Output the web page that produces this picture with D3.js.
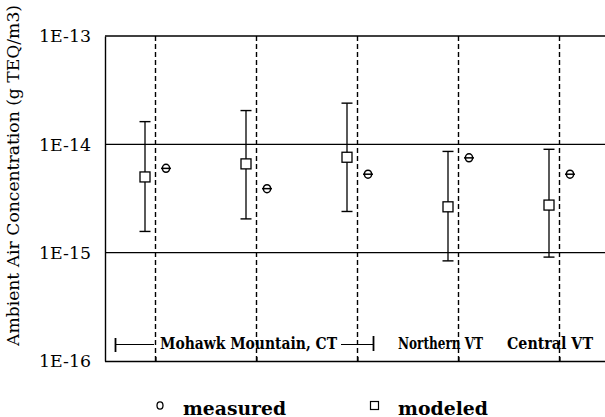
<!DOCTYPE html>
<html>
<head>
<meta charset="utf-8">
<script src="https://cdn.jsdelivr.net/npm/d3@7"></script>
<style>
  html, body { margin: 0; padding: 0; background: #fff; }
  svg { display: block; }
</style>
</head>
<body>
<svg id="chart" width="605" height="417"></svg>
<script>
// ---- data ----
const categories = ["Mohawk Mountain, CT (1)", "Mohawk Mountain, CT (2)", "Mohawk Mountain, CT (3)", "Northern VT", "Central VT"];
const modeled = [5.0e-15, 6.6e-15, 7.6e-15, 2.65e-15, 2.75e-15];
const modeledHigh = [1.62e-14, 2.05e-14, 2.4e-14, 8.6e-15, 9.0e-15];
const modeledLow = [1.57e-15, 2.05e-15, 2.4e-15, 8.4e-16, 9.1e-16];
const measured = [6.0e-15, 3.9e-15, 5.3e-15, 7.5e-15, 5.3e-15];
const yTicks = [1e-13, 1e-14, 1e-15, 1e-16];
const yTickLabels = ["1E-13", "1E-14", "1E-15", "1E-16"];
const gridValues = [1e-14, 1e-15];
const groupLabels = ["Mohawk Mountain, CT", "Northern VT", "Central VT"];
const legendLabels = ["measured", "modeled"];
const yTitle = "Ambient Air Concentration (g TEQ/m3)";

(function () {
// ---- layout ----
const svg = d3.select("#chart");
const pLeft = 105, pRight = 610, pTop = 36, pBottom = 361;

const x = d3.scalePoint().domain(categories).range([pLeft, pRight]).padding(0.5);
const y = d3.scaleLog().domain([1e-16, 1e-13]).range([pBottom, pTop]);

const serif = "'DejaVu Serif', 'Liberation Serif', serif";

// horizontal lines (top border + gridlines)
svg.append("g").selectAll("line").data([1e-13].concat(gridValues)).join("line")
  .attr("x1", pLeft).attr("x2", 605)
  .attr("y1", d => y(d)).attr("y2", d => y(d))
  .attr("stroke", "#000").attr("stroke-width", 1.3);

// dashed verticals at categories
svg.append("g").selectAll("line").data(categories).join("line")
  .attr("x1", d => x(d)).attr("x2", d => x(d))
  .attr("y1", pTop).attr("y2", pBottom)
  .attr("stroke", "#000").attr("stroke-width", 1.4)
  .attr("stroke-dasharray", "5,3");

// left axis
const yAxis = d3.axisLeft(y).tickValues(yTicks).tickSize(0).tickPadding(14)
  .tickFormat((d, i) => yTickLabels[i]);
const gy = svg.append("g").attr("transform", `translate(${pLeft},0)`).call(yAxis);
gy.select(".domain").attr("stroke", "#000").attr("stroke-width", 1.4);
gy.selectAll("text").attr("font-family", serif).attr("font-size", 17).attr("fill", "#000")
  .attr("dy", "0.35em").attr("textLength", 52).attr("lengthAdjust", "spacingAndGlyphs");

// bottom axis
const xAxis = d3.axisBottom(x).tickSize(-4).tickFormat("");
const gx = svg.append("g").attr("transform", `translate(0,${pBottom})`).call(xAxis);
gx.select(".domain").attr("d", `M${pLeft},0.5H605`).attr("stroke", "#000").attr("stroke-width", 1.6);
gx.selectAll(".tick line").attr("stroke", "#000").attr("stroke-width", 1.2);

// y title
svg.append("text")
  .attr("transform", `translate(19,${(5 + 346) / 2}) rotate(-90)`)
  .attr("text-anchor", "middle")
  .attr("font-family", serif).attr("font-size", 16)
  .attr("textLength", 341).attr("lengthAdjust", "spacingAndGlyphs")
  .text(yTitle);

// modeled error bars
const off = 10.5;
const mg = svg.append("g");
mg.selectAll("line.v").data(categories).join("line").attr("class", "v")
  .attr("x1", d => x(d) - off).attr("x2", d => x(d) - off)
  .attr("y1", (d, i) => y(modeledHigh[i])).attr("y2", (d, i) => y(modeledLow[i]))
  .attr("stroke", "#000").attr("stroke-width", 1.3);
mg.selectAll("line.hi").data(categories).join("line").attr("class", "hi")
  .attr("x1", d => x(d) - off - 5.5).attr("x2", d => x(d) - off + 5.5)
  .attr("y1", (d, i) => y(modeledHigh[i])).attr("y2", (d, i) => y(modeledHigh[i]))
  .attr("stroke", "#000").attr("stroke-width", 1.4);
mg.selectAll("line.lo").data(categories).join("line").attr("class", "lo")
  .attr("x1", d => x(d) - off - 5.5).attr("x2", d => x(d) - off + 5.5)
  .attr("y1", (d, i) => y(modeledLow[i])).attr("y2", (d, i) => y(modeledLow[i]))
  .attr("stroke", "#000").attr("stroke-width", 1.4);
mg.selectAll("rect").data(categories).join("rect")
  .attr("x", d => x(d) - off - 5).attr("y", (d, i) => y(modeled[i]) - 5)
  .attr("width", 10).attr("height", 10)
  .attr("fill", "#fff").attr("stroke", "#000").attr("stroke-width", 1.3);

// measured markers
const meg = svg.append("g");
meg.selectAll("line").data(categories).join("line")
  .attr("x1", d => x(d) + off - 5).attr("x2", d => x(d) + off + 5)
  .attr("y1", (d, i) => y(measured[i])).attr("y2", (d, i) => y(measured[i]))
  .attr("stroke", "#000").attr("stroke-width", 1.5);
meg.selectAll("ellipse").data(categories).join("ellipse")
  .attr("cx", d => x(d) + off).attr("cy", (d, i) => y(measured[i]))
  .attr("rx", 3.6).attr("ry", 4)
  .attr("fill", "none").attr("stroke", "#000").attr("stroke-width", 1.5);

// group annotation
const ann = svg.append("g");
const annY = 344.5;
const bracketL = x(categories[0]) - 40, bracketR = x(categories[2]) + 16;
ann.append("line").attr("x1", bracketL).attr("x2", bracketL).attr("y1", 338).attr("y2", 352)
  .attr("stroke", "#000").attr("stroke-width", 1.8);
ann.append("line").attr("x1", bracketL).attr("x2", 154).attr("y1", annY).attr("y2", annY)
  .attr("stroke", "#000").attr("stroke-width", 1.2);
ann.append("line").attr("x1", 341).attr("x2", bracketR).attr("y1", annY).attr("y2", annY)
  .attr("stroke", "#000").attr("stroke-width", 1.2);
ann.append("line").attr("x1", bracketR).attr("x2", bracketR).attr("y1", 336).attr("y2", 351)
  .attr("stroke", "#000").attr("stroke-width", 1.8);
const annPos = [[160, 177], [398, 85], [507, 86]];
ann.selectAll("text").data(groupLabels).join("text")
  .attr("x", (d, i) => annPos[i][0]).attr("y", 349)
  .attr("textLength", (d, i) => annPos[i][1]).attr("lengthAdjust", "spacingAndGlyphs")
  .attr("font-family", serif).attr("font-weight", "bold").attr("font-size", 16)
  .text(d => d);

// legend
const leg = svg.append("g");
leg.append("ellipse").attr("cx", 160).attr("cy", 405.5).attr("rx", 3).attr("ry", 3.6)
  .attr("fill", "none").attr("stroke", "#000").attr("stroke-width", 1.3);
leg.append("rect").attr("x", 370.5).attr("y", 401.5).attr("width", 8).attr("height", 8)
  .attr("fill", "none").attr("stroke", "#000").attr("stroke-width", 1.2);
leg.selectAll("text").data(legendLabels).join("text")
  .attr("x", (d, i) => [183, 398][i]).attr("y", 414.5)
  .attr("textLength", (d, i) => [103, 90][i]).attr("lengthAdjust", "spacingAndGlyphs")
  .attr("font-family", serif).attr("font-weight", "bold").attr("font-size", 18)
  .text(d => d);
})();
</script>
</body>
</html>
